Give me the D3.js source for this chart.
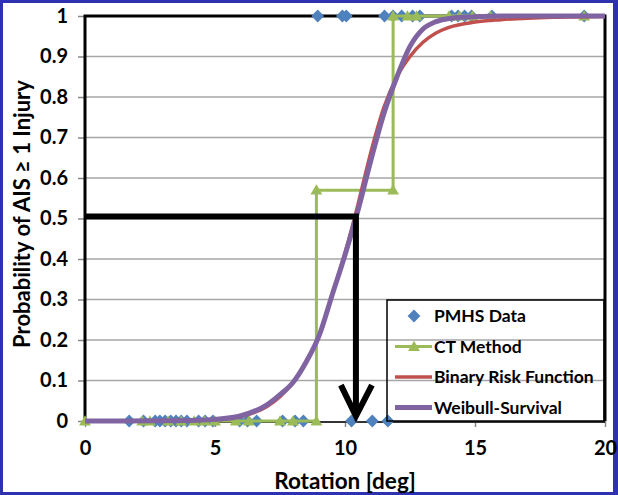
<!DOCTYPE html>
<html>
<head>
<meta charset="utf-8">
<script src="https://cdn.jsdelivr.net/npm/d3@7"></script>
<style>
    body { margin: 0; background: #2e31b0; }
    text { font-family: Lato, "Open Sans", sans-serif; font-weight: bold; fill: #000; }
</style>
</head>
<body>
<script>
// PMHS observations: rotation [deg] at outcome 0 (no injury) and 1 (injury)
const pmhsZero = [1.7, 2.25, 2.7, 2.88, 3.08, 3.3, 3.5, 3.7, 3.92, 4.37, 4.62, 4.92, 5.95, 6.25, 6.6, 7.6, 8.08, 8.4, 10.25, 11.05, 11.65];
const pmhsOne = [8.95, 9.9, 10.05, 11.52, 11.85, 12.18, 12.6, 12.88, 14.1, 14.35, 14.6, 14.87, 15.65, 19.2];

// CT method step points
const ctX = [0, 2.2, 2.5, 3.2, 3.7, 4.2, 4.6, 5.0, 5.8, 6.3, 7.5, 8.0, 8.9, 8.9, 11.85, 11.85, 12.4, 12.75, 14.0, 14.4, 14.9, 15.6, 19.2];
const ctY = [0, 0, 0, 0, 0, 0, 0, 0, 0, 0, 0, 0, 0, 0.57, 0.57, 1, 1, 1, 1, 1, 1, 1, 1];

// Binary risk function
const binX = [0, 4, 5, 6, 7, 7.5, 8, 8.5, 9, 9.5, 10, 10.5, 11, 11.5, 12, 12.5, 13, 13.5, 14, 15, 16, 18, 20];
const binY = [0, 0.001, 0.003, 0.011, 0.036, 0.06, 0.095, 0.145, 0.21, 0.31, 0.415, 0.535, 0.665, 0.775, 0.85, 0.9, 0.935, 0.958, 0.972, 0.985, 0.991, 0.997, 0.999];

// Weibull-survival curve
const weiX = [0, 4, 5, 6, 7, 7.5, 8, 8.5, 9, 9.5, 10, 10.5, 11, 11.5, 12, 12.5, 13, 13.5, 14, 15, 16, 20];
const weiY = [0, 0.001, 0.004, 0.013, 0.04, 0.065, 0.095, 0.145, 0.21, 0.31, 0.41, 0.52, 0.645, 0.76, 0.85, 0.925, 0.968, 0.986, 0.994, 0.998, 1, 1];

// 50% risk read-off path
const readX = [0, 10.42, 10.42];
const readY = [0.505, 0.505, 0.012];

const xTicks = [0, 5, 10, 15, 20];
const yTicks = [0, 0.1, 0.2, 0.3, 0.4, 0.5, 0.6, 0.7, 0.8, 0.9, 1];
const yTickLabels = ["0", "0.1", "0.2", "0.3", "0.4", "0.5", "0.6", "0.7", "0.8", "0.9", "1"];

const legendNames = ["PMHS Data", "CT Method", "Binary Risk Function", "Weibull-Survival"];

const width = 618
    , height = 495
    , blue = "#4f81bd"
    , green = "#9bbb59"
    , red = "#c0504d"
    , purple = "#8064a2";

var x = d3.scaleLinear()
    .domain([0, 20])
    .range([85, 605]);
var y = d3.scaleLinear()
    .domain([0, 1])
    .range([421, 16]);

var svg = d3.select("body").append("svg")
    .attr("width", width)
    .attr("height", height);

// blue frame + white card
svg.append("rect")
    .attr("width", width)
    .attr("height", height)
    .attr("fill", "#2e31b0");
svg.append("rect")
    .attr("x", 3)
    .attr("y", 3)
    .attr("width", width - 8)
    .attr("height", height - 6)
    .attr("fill", "#fff");

// gridlines
svg.selectAll(".grid")
    .data(yTicks.filter(d => d > 0 && d < 1))
    .enter()
    .append("line")
    .attr("class", "grid")
    .attr("x1", x(0))
    .attr("x2", x(20))
    .attr("y1", d => y(d))
    .attr("y2", d => y(d))
    .attr("stroke", "#a6a6a6")
    .attr("stroke-width", 1.5);

// axes
var yAxis = d3.axisLeft(y)
    .tickValues(yTicks)
    .tickFormat((d, i) => yTickLabels[i])
    .tickSize(7)
    .tickPadding(10);
var xAxis = d3.axisBottom(x)
    .tickValues(xTicks)
    .tickSize(6)
    .tickPadding(14);

var gy = svg.append("g")
    .attr("transform", "translate(" + x(0) + ",0)")
    .call(yAxis);
var gx = svg.append("g")
    .attr("transform", "translate(0," + y(0) + ")")
    .call(xAxis);
[gx, gy].forEach(function(g) {
    g.select(".domain").remove();
    g.selectAll(".tick line").attr("stroke", "#888").attr("stroke-width", 1.5);
    g.selectAll(".tick text").style("font-size", "20px");
});

// bottom axis line
svg.append("line")
    .attr("x1", x(0))
    .attr("x2", x(20))
    .attr("y1", y(0) + 1)
    .attr("y2", y(0) + 1)
    .attr("stroke", "#333")
    .attr("stroke-width", 2);

// plot border (top, left, right)
svg.append("path")
    .attr("d", "M" + x(0) + "," + y(0) + "V" + y(1) + "H" + x(20) + "V" + y(0))
    .attr("fill", "none")
    .attr("stroke", "#000")
    .attr("stroke-width", 3);

// axis titles
svg.append("text")
    .attr("x", (x(0) + x(20)) / 2)
    .attr("y", 489)
    .style("text-anchor", "middle")
    .style("font-size", "22.5px")
    .text("Rotation [deg]");
svg.append("text")
    .attr("transform", "translate(30," + 214 + ") rotate(-90)")
    .style("text-anchor", "middle")
    .style("font-size", "22px")
    .text("Probability of AIS \u2265 1 Injury");

var diamond = d3.symbol().type(d3.symbolDiamond2).size(104);
var triangle = d3.symbol().type(d3.symbolTriangle2).size(100);

// PMHS diamonds
var pmhs = pmhsZero.map(v => [v, 0]).concat(pmhsOne.map(v => [v, 1]));
svg.selectAll(".pmhs")
    .data(pmhs)
    .enter()
    .append("path")
    .attr("class", "pmhs")
    .attr("d", diamond)
    .attr("transform", d => "translate(" + x(d[0]) + "," + y(d[1]) + ")")
    .attr("fill", blue);

// CT method
var ct = ctX.map((v, i) => [v, ctY[i]]);
var line = d3.line()
    .x(d => x(d[0]))
    .y(d => y(d[1]));
svg.append("path")
    .datum(ct)
    .attr("d", line)
    .attr("fill", "none")
    .attr("stroke", green)
    .attr("stroke-width", 3);
svg.selectAll(".ct")
    .data(ct)
    .enter()
    .append("path")
    .attr("class", "ct")
    .attr("d", triangle)
    .attr("transform", d => "translate(" + x(d[0]) + "," + (y(d[1]) + 1) + ")")
    .attr("fill", green);

// fitted curves
var curve = d3.line()
    .x(d => x(d[0]))
    .y(d => y(d[1]))
    .curve(d3.curveMonotoneX);
svg.append("path")
    .datum(binX.map((v, i) => [v, binY[i]]))
    .attr("d", curve)
    .attr("fill", "none")
    .attr("stroke", red)
    .attr("stroke-width", 3.5);
svg.append("path")
    .datum(weiX.map((v, i) => [v, weiY[i]]))
    .attr("d", curve)
    .attr("fill", "none")
    .attr("stroke", purple)
    .attr("stroke-width", 5);

// 50% read-off arrow
var read = readX.map((v, i) => [v, readY[i]]);
svg.append("path")
    .datum(read)
    .attr("d", line)
    .attr("fill", "none")
    .attr("stroke", "#000")
    .attr("stroke-width", 6);
var tip = read[read.length - 1];
svg.append("path")
    .attr("d", "M" + (x(tip[0]) - 15) + "," + (y(tip[1]) - 31) + "L" + x(tip[0]) + "," + y(tip[1]) + "L" + (x(tip[0]) + 16) + "," + (y(tip[1]) - 31))
    .attr("fill", "none")
    .attr("stroke", "#000")
    .attr("stroke-width", 6);

// legend
var legend = svg.append("g")
    .attr("transform", "translate(387,300)");
legend.append("rect")
    .attr("width", 217)
    .attr("height", 121)
    .attr("fill", "none")
    .attr("stroke", "#000")
    .attr("stroke-width", 1.5);
var items = legend.selectAll(".item")
    .data(legendNames)
    .enter()
    .append("g")
    .attr("class", "item")
    .attr("transform", (d, i) => "translate(0," + (16 + i * 30.5) + ")");
items.append("text")
    .attr("x", 47)
    .attr("y", 6)
    .style("font-size", "17.5px")
    .text(d => d);
items.filter((d, i) => i > 0)
    .append("line")
    .attr("x1", 8)
    .attr("x2", 45)
    .attr("stroke", (d, i) => [green, red, purple][i])
    .attr("stroke-width", (d, i) => [3, 3.5, 5][i]);
items.filter((d, i) => i === 0)
    .append("path")
    .attr("d", diamond)
    .attr("transform", "translate(27,0)")
    .attr("fill", blue);
items.filter((d, i) => i === 1)
    .append("path")
    .attr("d", triangle)
    .attr("transform", "translate(27,1)")
    .attr("fill", green);
</script>
</body>
</html>
